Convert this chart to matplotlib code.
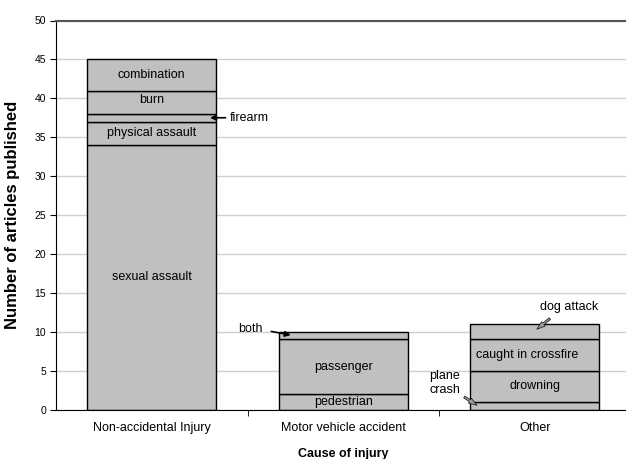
import numpy as np
import matplotlib
matplotlib.use("Agg")
import matplotlib.pyplot as plt

plt.rcParams["font.family"] = ["Liberation Sans", "DejaVu Sans"]

categories = ["Non-accidental Injury", "Motor vehicle accident", "Other"]

# stacked segments per category, bottom to top
segment_names = [
    ["sexual assault", "physical assault", "firearm", "burn", "combination"],
    ["pedestrian", "passenger", "both"],
    ["plane crash", "drowning", "caught in crossfire", "dog attack"],
]
segment_counts = [
    [34, 3, 1, 3, 4],
    [2, 7, 1],
    [1, 4, 4, 2],
]

# segments whose name is written beside the bar with an arrow
outside_labels = {"firearm", "both", "plane crash", "dog attack"}

BAR_COLOR = "#c0c0c0"
BAR_WIDTH = 0.674


def main():
    fig = plt.figure(figsize=(6.26, 4.59), dpi=100)
    ax = fig.add_axes([56 / 626, 49.5 / 459, 574.5 / 626, 389 / 459])

    x = np.arange(len(categories))
    for i, (names, counts) in enumerate(zip(segment_names, segment_counts)):
        bottoms = np.concatenate([[0], np.cumsum(counts)[:-1]])
        ax.bar([x[i]] * len(counts), counts, bottom=bottoms, width=BAR_WIDTH,
               color=BAR_COLOR, edgecolor="black", linewidth=1, zorder=2)
        for name, b, c in zip(names, bottoms, counts):
            if name in outside_labels:
                continue
            ty = b + c / 2
            tx = x[i]
            if name == "burn":
                ty = b + c * 0.6
            if name == "caught in crossfire":
                tx = x[i] - 0.04
            ax.text(tx, ty, name, ha="center", va="center", fontsize=9,
                    zorder=3)

    annotate_outside(ax)

    ax.set_xlim(-0.5, 2.5)
    ax.set_ylim(0, 50)
    ax.set_yticks(np.arange(0, 51, 5))
    ax.set_xticks(x)
    ax.set_xticklabels(categories, fontsize=9)
    ax.set_xticks([0.5, 1.5, 2.5], minor=True)
    ax.tick_params(axis="x", which="major", length=0, pad=9)
    ax.tick_params(axis="x", which="minor", length=4, direction="out")
    ax.tick_params(axis="y", labelsize=7.5, length=4, direction="out", pad=3)

    ax.grid(True, axis="y", color="#d0d0d0", linewidth=1, zorder=0)
    ax.spines["top"].set_color("#555555")
    ax.spines["top"].set_linewidth(1.5)
    ax.spines["right"].set_visible(False)

    ax.set_xlabel("Cause of injury", fontsize=9, fontweight="bold", labelpad=10)
    ax.set_ylabel("Number of articles published", fontsize=12,
                  fontweight="bold")
    ax.yaxis.set_label_coords(-0.063, 0.5)

    fig.savefig("out.png", dpi=100)


def annotate_outside(ax):
    """labels written next to the thin segments, with an arrow"""

    black = dict(arrowstyle="-|>", color="black", lw=1.2, mutation_scale=8)
    grey = dict(arrowstyle="simple,head_width=0.4,head_length=0.6,tail_width=0.15",
                facecolor="#a0a0a0", edgecolor="#222222", lw=0.6)

    ax.text(0.41, 37.5, "firearm", ha="left", va="center", fontsize=9)
    ax.annotate("", xy=(0.29, 37.5), xytext=(0.40, 37.5), arrowprops=black)

    ax.text(0.58, 10.3, "both", ha="right", va="center", fontsize=9)
    ax.annotate("", xy=(0.74, 9.5), xytext=(0.61, 10.1), arrowprops=black)

    ax.text(2.18, 13.2, "dog attack", ha="center", va="center", fontsize=9)
    ax.annotate("", xy=(2.0, 10.1), xytext=(2.09, 11.9), arrowprops=grey)

    ax.text(1.53, 3.4, "plane\ncrash", ha="center", va="center", fontsize=9,
            linespacing=1.3)
    ax.annotate("", xy=(1.71, 0.35), xytext=(1.62, 1.8), arrowprops=grey)


if __name__ == "__main__":
    main()
